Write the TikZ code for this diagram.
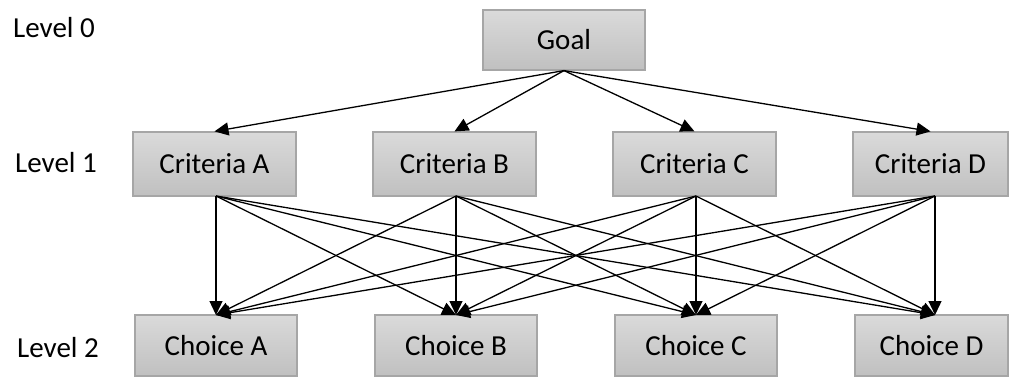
\documentclass[tikz,border=0pt]{standalone}
\usepackage{fontspec}
\setmainfont{Carlito}
\usetikzlibrary{arrows.meta}
\definecolor{boxtop}{RGB}{218,218,218}
\definecolor{boxbot}{RGB}{192,192,192}
\definecolor{boxline}{RGB}{166,166,166}
\begin{document}
\begin{tikzpicture}[x=1pt,y=-1pt,
  box/.style={draw=boxline, line width=1.2pt, top color=boxtop, bottom color=boxbot,
    inner sep=0pt, font=\fontsize{29}{34}\selectfont},
  lvl/.style={anchor=west, inner sep=0pt, font=\fontsize{29}{34}\selectfont},
  arr/.style={line width=1.3pt, -{Triangle[length=14pt,width=13pt]}}]
\useasboundingbox (0,0) rectangle (1011,377);
% levels
\node[lvl] (l0) at (13,28) {Level 0};
\node[lvl] (l1) at (15,163) {Level 1};
\node[lvl] (l2) at (17,348) {Level 2};
% goal
\node[box, minimum width=162pt, minimum height=60pt] (goal) at (564,40) {Goal};
% criteria
\node[box, minimum width=163pt, minimum height=64pt] (cA) at (214.5,164) {Criteria A};
\node[box, minimum width=163pt, minimum height=64pt] (cB) at (454.5,164) {Criteria B};
\node[box, minimum width=163pt, minimum height=64pt] (cC) at (694.5,164) {Criteria C};
\node[box, minimum width=155pt, minimum height=64pt] (cD) at (930.5,164) {Criteria D};
% choices
\node[box, minimum width=162pt, minimum height=61pt] (hA) at (216,345.5) {Choice A};
\node[box, minimum width=162pt, minimum height=61pt] (hB) at (456,345.5) {Choice B};
\node[box, minimum width=162pt, minimum height=61pt] (hC) at (696,345.5) {Choice C};
\node[box, minimum width=153pt, minimum height=61pt] (hD) at (931.5,345.5) {Choice D};
% ports
\coordinate (oA) at (216,196);
\coordinate (oB) at (456,196);
\coordinate (oC) at (696,196);
\coordinate (oD) at (935,196);
\coordinate (iA) at (216,315);
\coordinate (iB) at (456,315);
\coordinate (iC) at (696,315);
\coordinate (iD) at (935,315);
% goal arrows
\foreach \c in {cA,cB,cC,cD} \draw[arr] (goal.south) -- (\c.north);
% criteria to choices
\foreach \o in {oA,oB,oC,oD}
  \foreach \i in {iA,iB,iC,iD}
    \draw[arr] (\o) -- (\i);
\end{tikzpicture}
\end{document}
